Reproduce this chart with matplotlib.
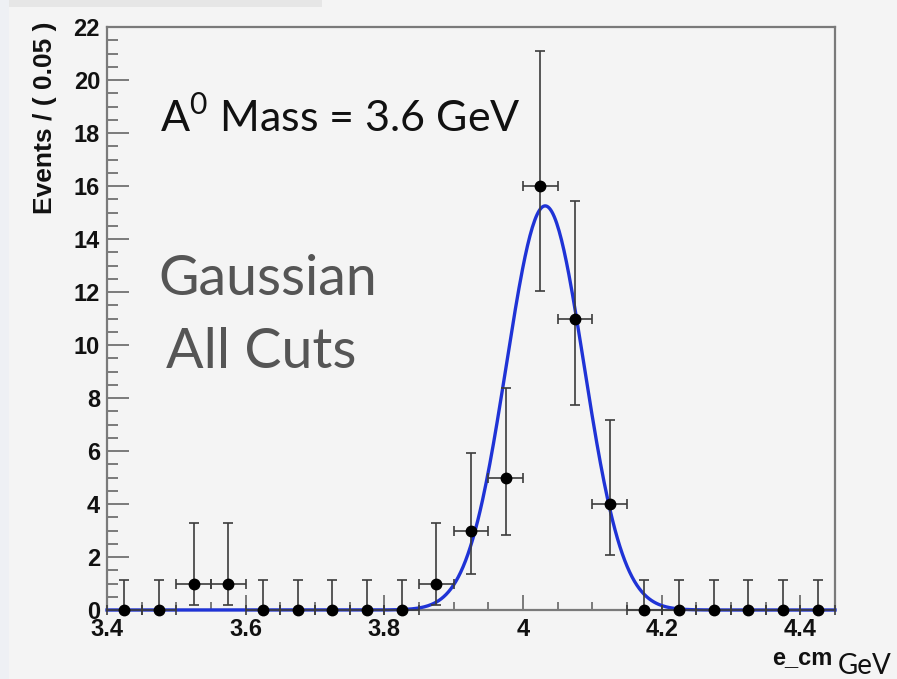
import numpy as np
import matplotlib
matplotlib.use("Agg")
import matplotlib.pyplot as plt
from matplotlib.patches import Rectangle
from matplotlib.ticker import MultipleLocator

# Binned e_cm spectrum (bin width 0.05 GeV)
bin_centers = [3.425, 3.475, 3.525, 3.575, 3.625, 3.675, 3.725, 3.775, 3.825,
               3.875, 3.925, 3.975, 4.025, 4.075, 4.125, 4.175, 4.225, 4.275,
               4.325, 4.375, 4.425]
counts = [0, 0, 1, 1, 0, 0, 0, 0, 0, 1, 3, 5, 16, 11, 4, 0, 0, 0, 0, 0, 0]
# Asymmetric Poisson errors (lower, upper) per bin
err_low = [0, 0, 0.83, 0.83, 0, 0, 0, 0, 0, 0.83, 1.63, 2.16, 3.96, 3.28, 1.91,
           0, 0, 0, 0, 0, 0]
err_high = [1.15, 1.15, 2.30, 2.30, 1.15, 1.15, 1.15, 1.15, 1.15, 2.30, 2.92,
            3.38, 5.10, 4.42, 3.16, 1.15, 1.15, 1.15, 1.15, 1.15, 1.15]
bin_half_width = 0.025

# Gaussian fit parameters
fit_mean = 4.032
fit_sigma = 0.056
fit_peak = 15.25

x_ticks = [3.4, 3.6, 3.8, 4.0, 4.2, 4.4]
x_tick_labels = ["3.4", "3.6", "3.8", "4", "4.2", "4.4"]
y_ticks = [0, 2, 4, 6, 8, 10, 12, 14, 16, 18, 20, 22]

W, H = 897, 679
BG = "#f4f4f4"
fig = plt.figure(figsize=(W / 100, H / 100), dpi=100, facecolor=BG)

# slide chrome: thin strips along the top-left and the left edge
fig.patches.append(Rectangle((0, 0), 9 / W, 1, transform=fig.transFigure,
                             facecolor="#eef0f4", edgecolor="none", zorder=-5))
fig.patches.append(Rectangle((9 / W, 1 - 7 / H), 313 / W, 7 / H,
                             transform=fig.transFigure,
                             facecolor="#e6e6e6", edgecolor="none", zorder=-5))

left, right, top, bottom = 107, 835, 27, 610
ax = fig.add_axes([left / W, 1 - bottom / H, (right - left) / W, (bottom - top) / H])
ax.set_facecolor(BG)
ax.set_xlim(3.4, 4.45)
ax.set_ylim(0, 22)

for s in ax.spines.values():
    s.set_color("#7a7a7a")
    s.set_linewidth(1.6)

ax.xaxis.set_major_locator(plt.FixedLocator(x_ticks))
ax.set_xticklabels(x_tick_labels)
ax.xaxis.set_minor_locator(MultipleLocator(0.05))
ax.yaxis.set_major_locator(plt.FixedLocator(y_ticks))
ax.yaxis.set_minor_locator(MultipleLocator(0.5))
ax.tick_params(which="both", direction="in", colors="#7a7a7a",
               labelcolor="#111111", top=False, right=False)
ax.tick_params(axis="x", which="major", length=11, width=1.4, pad=6)
ax.tick_params(axis="x", which="minor", length=6, width=1.4)
ax.tick_params(axis="y", which="major", length=16, width=1.4, pad=5)
ax.tick_params(axis="y", which="minor", length=8, width=1.4)
for lab in ax.get_xticklabels() + ax.get_yticklabels():
    lab.set_fontfamily("Liberation Sans")
    lab.set_fontweight("bold")
    lab.set_fontsize(17)

# Gaussian fit curve
xs = np.linspace(3.4, 4.45, 600)
ys = fit_peak * np.exp(-0.5 * ((xs - fit_mean) / fit_sigma) ** 2)
ax.plot(xs, ys, color="#1f33d6", lw=2.4, zorder=3, clip_on=False)

# Data points with errors
ax.errorbar(bin_centers, counts,
            xerr=bin_half_width,
            yerr=[err_low, err_high],
            fmt="o", color="black", ms=7.5, mec="black",
            ecolor="#3c3c3c", elinewidth=1.2, capsize=3.5, capthick=1.2,
            zorder=4, clip_on=False)

# Axis titles
fig.text(45 / W, 1 - 22 / H, "Events / ( 0.05 )", rotation=90,
         ha="center", va="top", fontsize=19, fontweight="bold",
         family="Liberation Sans", color="#111111")
fig.text(832 / W, 1 - 664 / H, "e_cm", ha="right", va="baseline",
         fontsize=17, fontweight="bold", family="Liberation Sans",
         color="#111111")
fig.text(838 / W, 1 - 674 / H, "GeV", ha="left", va="baseline",
         fontsize=20, family="Lato", color="#111111")

# Annotations
fig.text(160 / W, 1 - 132 / H, r"A$^{\mathregular{0}}$ Mass = 3.6 GeV",
         ha="left", va="baseline", fontsize=31, family="Lato",
         color="#111111")
fig.text(158 / W, 1 - 295 / H, "Gaussian", ha="left", va="baseline",
         fontsize=40, family="Lato", color="#555555")
fig.text(166 / W, 1 - 368 / H, "All Cuts", ha="left", va="baseline",
         fontsize=40, family="Lato", color="#555555")

fig.savefig("out.png", dpi=100, facecolor=BG)
